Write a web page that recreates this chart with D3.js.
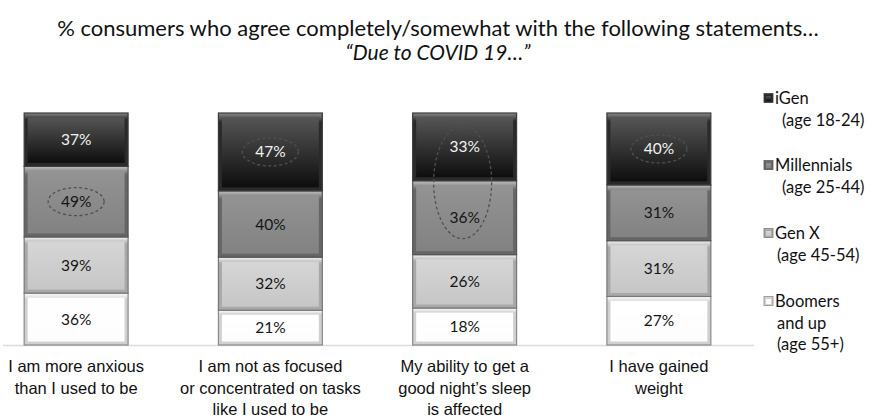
<!DOCTYPE html>
<html>
<head>
<meta charset="utf-8">
<script src="https://cdn.jsdelivr.net/npm/d3@7"></script>
<style>
  body { margin: 0; background: #fff; }
  svg { display: block; font-family: Lato, "Open Sans", sans-serif; }
  .title { font-size: 22px; fill: #111; }
  .catlabel { font-size: 16.5px; fill: #111; }
  .value { font-size: 15.5px; }
  .legend text { font-size: 16.5px; fill: #111; }
</style>
</head>
<body>
<svg width="876" height="420"></svg>
<script>

// categories (multi-line tick labels)
const categories = ['anxious', 'focused', 'sleep', 'weight'];
const categoryLabels = [
  ['I am more anxious', 'than I used to be'],
  ['I am not as focused', 'or concentrated on tasks', 'like I used to be'],
  ['My ability to get a', 'good night\u2019s sleep', 'is affected'],
  ['I have gained', 'weight']
];

// series values (% who agree)
const iGen        = [37, 47, 33, 40];
const millennials = [49, 40, 36, 31];
const genX        = [39, 32, 26, 31];
const boomers     = [36, 21, 18, 27];

const seriesKeys = ['boomers', 'genX', 'millennials', 'iGen'];   // bottom -> top
const legendLabels = {
  iGen: ['iGen', '(age 18-24)'],
  millennials: ['Millennials', '(age 25-44)'],
  genX: ['Gen X', '(age 45-54)'],
  boomers: ['Boomers', 'and up', '(age 55+)']
};

// circled values: [category index, series keys]
const highlights = [
  [0, ['millennials']],
  [1, ['iGen']],
  [2, ['iGen', 'millennials']],
  [3, ['iGen']]
];

const svg = d3.select('svg');

// colour styles: edge gradient (outer) + face gradient (inner)
const styles = {
  iGen:        { top: '#8a8a8a', edge: '#2a2a2a', face0: '#555', face1: '#0e0e0e', stroke: '#3a3a3a', text: '#f2f2f2' },
  millennials: { top: '#c4c4c4', edge: '#666',    face0: '#939393', face1: '#828282', stroke: '#555', text: '#151515' },
  genX:        { top: '#f7f7f7', edge: '#a8a8a8', face0: '#d6d6d6', face1: '#c6c6c6', stroke: '#777', text: '#151515' },
  boomers:     { top: '#ffffff', edge: '#d0d0d0', face0: '#ffffff', face1: '#fdfdfd', stroke: '#8a8a8a', text: '#151515' }
};

const defs = svg.append('defs');
seriesKeys.forEach(k => {
  const s = styles[k];
  const ge = defs.append('linearGradient').attr('id', 'edge-' + k)
    .attr('x1', 0).attr('y1', 0).attr('x2', 0).attr('y2', 1);
  ge.append('stop').attr('offset', '0%').attr('stop-color', s.top);
  ge.append('stop').attr('offset', '12%').attr('stop-color', s.edge);
  ge.append('stop').attr('offset', '100%').attr('stop-color', s.edge);
  const gf = defs.append('linearGradient').attr('id', 'face-' + k)
    .attr('x1', 0).attr('y1', 0).attr('x2', 0).attr('y2', 1);
  gf.append('stop').attr('offset', '0%').attr('stop-color', s.face0);
  gf.append('stop').attr('offset', '100%').attr('stop-color', s.face1);
});

// title
svg.append('text').attr('class', 'title')
  .attr('x', 438).attr('y', 36).attr('text-anchor', 'middle')
  .text('% consumers who agree completely/somewhat with the following statements\u2026');
svg.append('text').attr('class', 'title')
  .attr('x', 438).attr('y', 60).attr('text-anchor', 'middle')
  .style('font-style', 'italic')
  .style('font-size', '21px')
  .text('\u201cDue to COVID 19\u2026\u201d');

// scales
const xScale = d3.scaleBand()
  .domain(categories)
  .range([-21, 756])
  .paddingInner(0.465)
  .paddingOuter(0.2325);

const yScale = d3.scaleLinear()
  .domain([0, 1])
  .range([345, 113]);

const table = categories.map((c, i) => ({
  cat: c, iGen: iGen[i], millennials: millennials[i], genX: genX[i], boomers: boomers[i]
}));

const stacked = d3.stack().keys(seriesKeys).offset(d3.stackOffsetExpand)(table);

// baseline
svg.append('line')
  .attr('x1', 3).attr('x2', 754)
  .attr('y1', yScale(0) + 0.5).attr('y2', yScale(0) + 0.5)
  .attr('stroke', '#dcdcdc').attr('stroke-width', 1.5);

const chart = svg.append('g');

const layers = chart.selectAll('g.layer')
  .data(stacked)
  .enter().append('g')
  .attr('class', 'layer');

const segs = layers.selectAll('g.seg')
  .data(d => d.map(p => ({ key: d.key, p: p })))
  .enter().append('g')
  .attr('class', 'seg');

// outer bevel
segs.append('rect')
  .attr('x', d => xScale(d.p.data.cat))
  .attr('y', d => yScale(d.p[1]))
  .attr('width', xScale.bandwidth())
  .attr('height', d => yScale(d.p[0]) - yScale(d.p[1]))
  .attr('fill', d => `url(#edge-${d.key})`)
  .attr('stroke', d => styles[d.key].stroke)
  .attr('stroke-width', 1.2);

// inner face
const inset = 3.5;
segs.append('rect')
  .attr('x', d => xScale(d.p.data.cat) + inset)
  .attr('y', d => yScale(d.p[1]) + inset + 1)
  .attr('width', xScale.bandwidth() - 2 * inset)
  .attr('height', d => yScale(d.p[0]) - yScale(d.p[1]) - 2 * inset - 1)
  .attr('fill', d => `url(#face-${d.key})`);

// value labels
segs.append('text')
  .attr('class', 'value')
  .attr('x', d => xScale(d.p.data.cat) + xScale.bandwidth() / 2)
  .attr('y', d => (yScale(d.p[0]) + yScale(d.p[1])) / 2 + 5.5)
  .attr('text-anchor', 'middle')
  .attr('fill', d => styles[d.key].text)
  .text(d => `${d.p.data[d.key]}%`);

// dashed ellipses around highlighted values
const labelY = (i, key) => {
  const p = stacked.find(s => s.key === key)[i];
  return (yScale(p[0]) + yScale(p[1])) / 2;
};
highlights.forEach(([i, keys]) => {
  const ys = keys.map(k => labelY(i, k));
  const y0 = d3.min(ys), y1 = d3.max(ys);
  const multi = keys.length > 1;
  chart.append('ellipse')
    .attr('cx', xScale(categories[i]) + xScale.bandwidth() / 2 - (multi ? 2 : 0))
    .attr('cy', (y0 + y1) / 2)
    .attr('rx', multi ? 29 : 28)
    .attr('ry', (y1 - y0) / 2 + (multi ? 21 : 14))
    .attr('fill', 'none')
    .attr('stroke', '#505050')
    .attr('stroke-width', 1.3)
    .attr('stroke-dasharray', '3,2.5');
});

// category labels via bottom axis
const xAxis = svg.append('g')
  .attr('transform', `translate(0, ${yScale(0)})`)
  .call(d3.axisBottom(xScale).tickSize(0).tickFormat(''));
xAxis.select('.domain').remove();
xAxis.selectAll('.tick text').remove();
xAxis.selectAll('.tick').each(function(c, i) {
  const t = d3.select(this).append('text')
    .attr('class', 'catlabel')
    .attr('text-anchor', 'middle')
    .attr('y', 27);
  categoryLabels[i].forEach((line, j) => {
    t.append('tspan').attr('x', 0).attr('dy', j === 0 ? 0 : 21.5).text(line);
  });
});

// legend (top -> bottom)
const legendKeys = seriesKeys.slice().reverse();
const legendY = [104, 171, 239, 307];
const legendIndent = { iGen: 18, millennials: 18, genX: 13, boomers: 13 };
const legend = svg.append('g').attr('class', 'legend');
legendKeys.forEach((k, i) => {
  const g = legend.append('g').attr('transform', `translate(764, ${legendY[i]})`);
  g.append('rect').attr('x', 0).attr('y', -10.5).attr('width', 9).attr('height', 9)
    .attr('fill', `url(#edge-${k})`).attr('stroke', styles[k].stroke).attr('stroke-width', 0.8);
  g.append('rect').attr('x', 2).attr('y', -8).attr('width', 5).attr('height', 5)
    .attr('fill', `url(#face-${k})`);
  legendLabels[k].forEach((line, j) => {
    g.append('text')
      .attr('x', j === 0 ? 11 : legendIndent[k])
      .attr('y', j * 21.5)
      .text(line);
  });
});

</script>
</body>
</html>
